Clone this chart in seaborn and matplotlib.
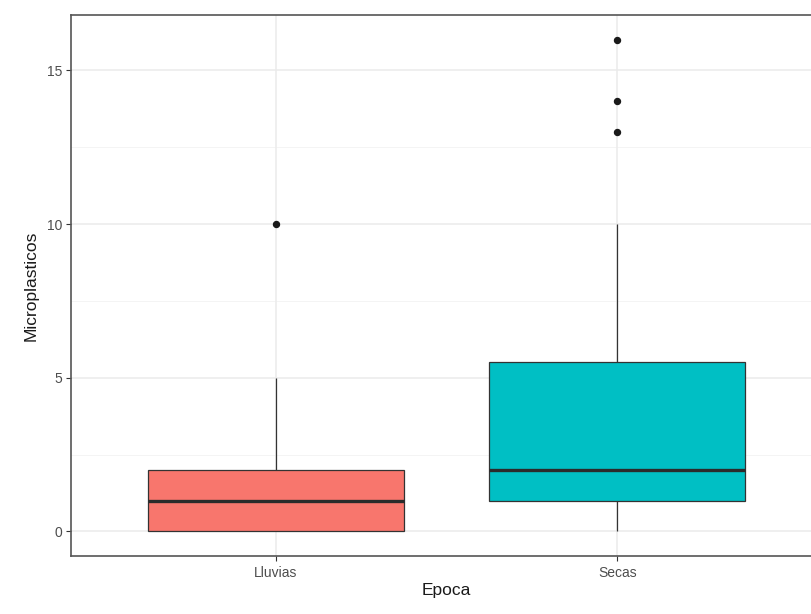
import numpy as np
import pandas as pd
import matplotlib
matplotlib.use("Agg")
import matplotlib.pyplot as plt
import seaborn as sns

# Microplastic counts per sample, by season
lluvias = [0, 0, 0, 0, 1, 1, 1, 2, 2, 2, 5, 10]
secas = [0, 0, 1, 1, 1, 1, 1, 2, 2, 2, 2, 3, 4, 5, 6, 10, 13, 14, 16]
categories = ["Lluvias", "Secas"]
colors = ["#F8766D", "#00BFC4"]
y_ticks = [0, 5, 10, 15]
y_minor = [2.5, 7.5, 12.5]

df = pd.DataFrame({
    "Epoca": ["Lluvias"] * len(lluvias) + ["Secas"] * len(secas),
    "Microplasticos": lluvias + secas,
})

sns.set_theme(style="white")
plt.rcParams["font.family"] = ["Liberation Sans", "DejaVu Sans"]

fig = plt.figure(figsize=(8.11, 6.14), dpi=100)
ax = fig.add_axes([71 / 811, 1 - 556 / 614, (822 - 71) / 811, (556 - 15) / 614])

# grid (theme_bw style)
for y in y_minor:
    ax.axhline(y, color="#F2F2F2", lw=0.6, zorder=0)
for y in y_ticks:
    ax.axhline(y, color="#EBEBEB", lw=1.1, zorder=0)
for x in range(len(categories)):
    ax.axvline(x, color="#EBEBEB", lw=1.1, zorder=0)

sns.boxplot(
    data=df, x="Epoca", y="Microplasticos", hue="Epoca", order=categories,
    hue_order=categories, palette=colors, legend=False, width=0.75,
    whis=1.5, showcaps=False, linecolor="#333333", linewidth=0.9,
    medianprops=dict(color="#2B2B2B", linewidth=2.4),
    flierprops=dict(marker="o", markerfacecolor="#1A1A1A", markeredgecolor="#1A1A1A",
                    markersize=4.3),
    saturation=1, ax=ax, zorder=2,
)

ax.set_xlim(-0.6, 1.6)
ax.set_ylim(-0.8, 16.8)
ax.set_yticks(y_ticks)
ax.set_yticklabels([str(v) for v in y_ticks])

ax.tick_params(axis="both", colors="#333333", labelcolor="#4D4D4D", labelsize=10,
               length=3.5, width=0.8, direction="out", left=True, bottom=True)
ax.tick_params(axis="x", pad=4)
ax.tick_params(axis="y", pad=3)

ax.set_xlabel("Epoca", fontsize=12.5, color="#1A1A1A", labelpad=2)
ax.set_ylabel("Microplasticos", fontsize=12.5, color="#1A1A1A", labelpad=6)

for side in ["top", "bottom", "left", "right"]:
    ax.spines[side].set_visible(True)
    ax.spines[side].set_color("#555555")
    ax.spines[side].set_linewidth(1.2)

fig.savefig("out.png", dpi=100)
